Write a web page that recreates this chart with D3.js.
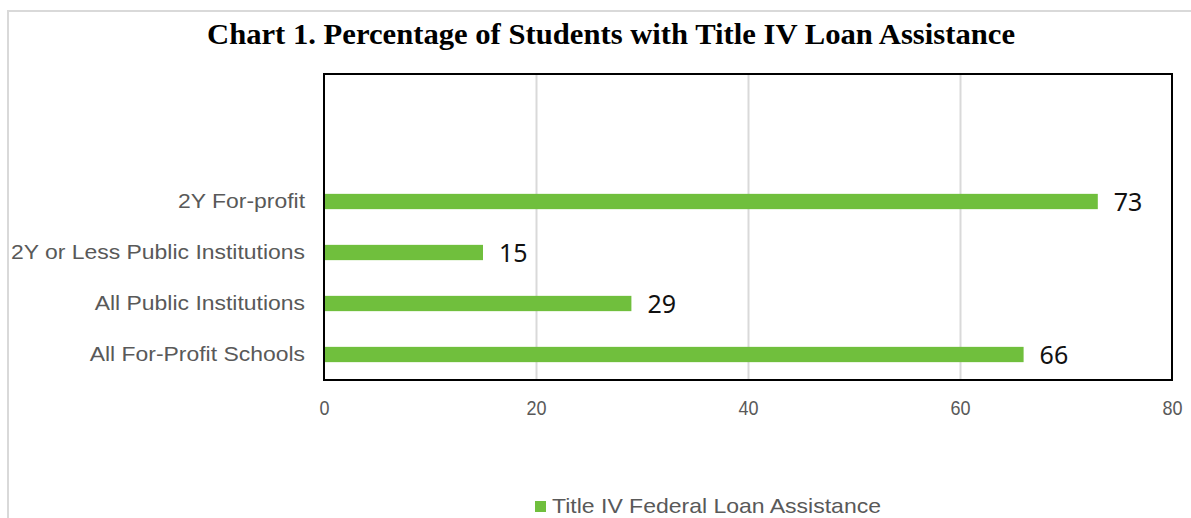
<!DOCTYPE html>
<html>
<head>
<meta charset="utf-8">
<script src="https://cdn.jsdelivr.net/npm/d3@7"></script>
<style>
  body { margin: 0; background: #fff; }
  svg { display: block; }
</style>
</head>
<body>
<div class="canvas"></div>
<script>
// data
const categories = ['2Y For-profit', '2Y or Less Public Institutions', 'All Public Institutions', 'All For-Profit Schools'];
const values = [73, 15, 29, 66];
const xTicks = [0, 20, 40, 60, 80];
const seriesName = 'Title IV Federal Loan Assistance';
const title = 'Chart 1. Percentage of Students with Title IV Loan Assistance';

// the excel chart keeps two empty slots above the bars
const slots = ['empty1', 'empty2', ...categories];

// set up dimensions
const width = 1191;
const height = 518;
const margin = { top: 74, right: 19, bottom: 138, left: 324 };
const graphWidth = width - margin.left - margin.right;
const graphHeight = height - margin.top - margin.bottom;

// stretch/squeeze text horizontally by a factor (windows text renders wider)
const stretch = (sel, k) => sel.each(function() {
  const w = this.getComputedTextLength();
  d3.select(this).attr('textLength', w * k).attr('lengthAdjust', 'spacingAndGlyphs');
});

const svg = d3
  .select('.canvas')
  .append('svg')
  .attr('width', width)
  .attr('height', height);

// outer chart area border (only top and left visible)
svg.append('path')
  .attr('d', `M8,${height} V11 H${width}`)
  .attr('fill', 'none')
  .attr('stroke', '#d9d9d9')
  .attr('stroke-width', 2);

// title
svg.append('text')
  .attr('x', 611)
  .attr('y', 44)
  .attr('text-anchor', 'middle')
  .attr('font-family', '"Liberation Serif", "Times New Roman", serif')
  .attr('font-weight', 'bold')
  .attr('font-size', 29)
  .attr('fill', '#000')
  .text(title)
  .attr('textLength', 808)
  .attr('lengthAdjust', 'spacingAndGlyphs');

const graph = svg
  .append('g')
  .attr('transform', `translate(${margin.left}, ${margin.top})`);

// scales
const x = d3.scaleLinear().domain([0, 80]).range([0, graphWidth]);
const y = d3.scaleBand().domain(slots).range([0, graphHeight]).paddingInner(0.7).paddingOuter(0.35);

// gridlines
graph.append('g')
  .attr('class', 'grid')
  .call(d3.axisBottom(x).tickValues(xTicks.slice(1, -1)).tickSize(graphHeight).tickFormat(''))
  .call(g => g.select('.domain').remove())
  .call(g => g.selectAll('line').attr('stroke', '#d9d9d9').attr('stroke-width', 2));

// bars
graph.selectAll('rect.bar')
  .data(values)
  .enter()
  .append('rect')
  .attr('class', 'bar')
  .attr('x', 0)
  .attr('y', (d, i) => y(categories[i]))
  .attr('width', d => x(d))
  .attr('height', y.bandwidth())
  .attr('fill', '#70bf3d');

// value labels
graph.selectAll('text.value')
  .data(values)
  .enter()
  .append('text')
  .attr('class', 'value')
  .attr('x', d => x(d) + 16)
  .attr('y', (d, i) => y(categories[i]) + y.bandwidth() / 2)
  .attr('dy', '0.36em')
  .attr('font-family', '"Noto Sans", "Open Sans", sans-serif')
  .attr('font-size', 25)
  .attr('fill', '#111')
  .text(d => d);

// plot border
graph.append('rect')
  .attr('x', 0)
  .attr('y', 0)
  .attr('width', graphWidth)
  .attr('height', graphHeight)
  .attr('fill', 'none')
  .attr('stroke', '#000')
  .attr('stroke-width', 2);

// x axis labels (narrow font in the original)
const xAxisGroup = graph.append('g')
  .attr('transform', `translate(0, ${graphHeight})`)
  .call(d3.axisBottom(x).tickValues(xTicks).tickSize(0).tickPadding(20))
  .call(g => g.select('.domain').remove());
xAxisGroup.selectAll('text')
  .attr('font-family', '"Liberation Sans Narrow", "Arial Narrow", "Liberation Sans", sans-serif')
  .attr('font-size', 21)
  .attr('fill', '#595959');
const w80 = xAxisGroup.selectAll('text').nodes().pop().getComputedTextLength();
stretch(xAxisGroup.selectAll('text'), 20 / w80);

// y axis labels
const yAxisGroup = graph.append('g')
  .call(d3.axisLeft(y).tickValues(categories).tickSize(0).tickPadding(19))
  .call(g => g.select('.domain').remove());
yAxisGroup.selectAll('text')
  .attr('font-family', '"Liberation Sans", Arial, sans-serif')
  .attr('font-size', 21)
  .attr('fill', '#595959');
const wLong = d3.max(yAxisGroup.selectAll('text').nodes(), n => n.getComputedTextLength());
stretch(yAxisGroup.selectAll('text'), 294 / wLong);

// legend
const legend = svg.append('g').attr('transform', 'translate(535, 501)');
legend.append('rect')
  .attr('width', 11)
  .attr('height', 11)
  .attr('fill', '#70bf3d');
const legendText = legend.append('text')
  .attr('x', 17)
  .attr('y', 12)
  .attr('font-family', '"Liberation Sans", Arial, sans-serif')
  .attr('font-size', 21)
  .attr('fill', '#595959')
  .text(seriesName);
stretch(legendText, 329 / legendText.node().getComputedTextLength());
</script>
</body>
</html>
